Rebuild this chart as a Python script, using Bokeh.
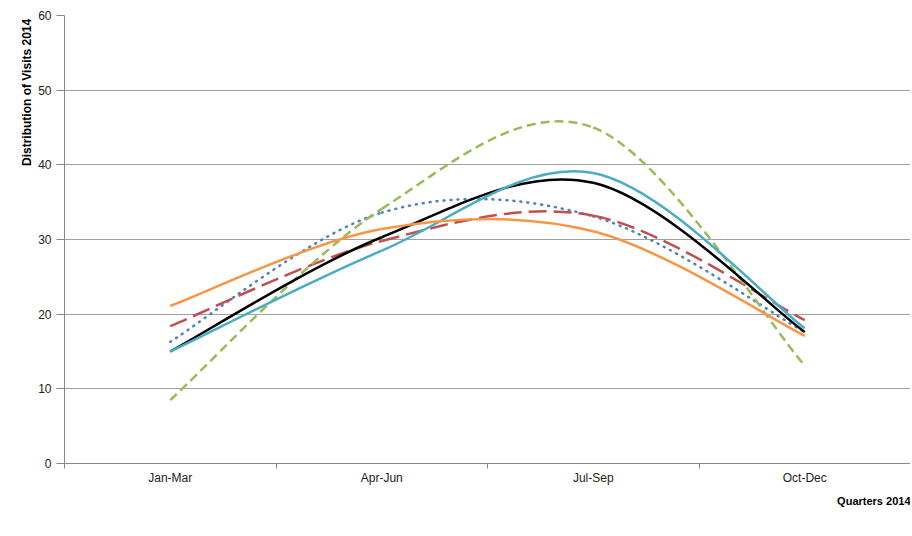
from bokeh.plotting import figure
from bokeh.models import FixedTicker, Title, Legend, LegendItem, Range1d
from bokeh.embed import file_html
from bokeh.resources import INLINE

# ---- data ----
quarters = ["Jan-Mar", "Apr-Jun", "Jul-Sep", "Oct-Dec"]
allfv = [16.3, 33.6, 33.1, 17.6]
fife = [18.4, 29.8, 33.2, 19.2]
perthshire = [8.5, 34.1, 45.0, 13.1]
scotland = [15.0, 30.3, 37.6, 17.6]
edinburgh = [15.0, 28.5, 38.9, 18.1]
glasgow = [21.1, 31.4, 31.1, 17.1]
series_names = ["ALLFV", "Kingdom of Fife", "Perthshire", "Scotland",
                "Edinburgh & Lothian", "Greater Glasgow & Clyde Valley"]
y_ticks = [0, 10, 20, 30, 40, 50, 60]

FONT = "Liberation Sans"

series = [
    (series_names[0], allfv, "#4f81bd", "1 6", "round"),
    (series_names[1], fife, "#c0504d", "18 7", "butt"),
    (series_names[2], perthshire, "#9bbb59", "9 5", "butt"),
    (series_names[3], scotland, "#000000", "solid", "butt"),
    (series_names[4], edinburgh, "#4bacc6", "solid", "butt"),
    (series_names[5], glasgow, "#f79646", "solid", "butt"),
]

xs = [i + 0.5 for i in range(len(quarters))]


def bezier_segments(xv, yv):
    n = len(xv)
    out = dict(x0=[], y0=[], x1=[], y1=[], cx0=[], cy0=[], cx1=[], cy1=[])
    for i in range(n - 1):
        a = max(i - 1, 0)
        d = min(i + 2, n - 1)
        out["x0"].append(xv[i]); out["y0"].append(yv[i])
        out["x1"].append(xv[i + 1]); out["y1"].append(yv[i + 1])
        out["cx0"].append(xv[i] + (xv[i + 1] - xv[a]) / 6)
        out["cy0"].append(yv[i] + (yv[i + 1] - yv[a]) / 6)
        out["cx1"].append(xv[i + 1] - (xv[d] - xv[i]) / 6)
        out["cy1"].append(yv[i + 1] - (yv[d] - yv[i]) / 6)
    return out


p = figure(frame_width=846, frame_height=448, output_backend="svg",
           toolbar_location=None,
           x_range=Range1d(0, len(quarters)), y_range=Range1d(0, 60),
           min_border_left=64, min_border_right=0, min_border_top=15,
           min_border_bottom=71)
p.outline_line_color = None
p.background_fill_color = "white"
p.border_fill_color = "white"

items = []
for name, vals, color, dash, cap in series:
    seg = bezier_segments(xs, vals)
    r = p.bezier(x0=seg["x0"], y0=seg["y0"], x1=seg["x1"], y1=seg["y1"],
                 cx0=seg["cx0"], cy0=seg["cy0"], cx1=seg["cx1"], cy1=seg["cy1"],
                 line_color=color, line_width=2.5, line_dash=dash, line_cap=cap)
    items.append(LegendItem(label=name, renderers=[r]))

# x axis
xa = p.xaxis[0]
xa.ticker = FixedTicker(ticks=xs, minor_ticks=list(range(len(quarters) + 1)))
xa.major_label_overrides = {x: q for x, q in zip(xs, quarters)}
xa.major_tick_line_color = None
xa.major_tick_out = 0
xa.major_tick_in = 0
xa.minor_tick_out = 5
xa.minor_tick_in = 0
xa.minor_tick_line_color = "#888888"
xa.axis_line_color = "#888888"
xa.major_label_text_font = FONT
xa.major_label_text_font_size = "12px"
xa.major_label_text_color = "#222222"
xa.major_label_standoff = 2

# y axis
ya = p.yaxis[0]
ya.ticker = FixedTicker(ticks=y_ticks)
ya.minor_tick_line_color = None
ya.major_tick_out = 8
ya.major_tick_in = 0
ya.major_tick_line_color = "#888888"
ya.axis_line_color = "#888888"
ya.major_label_text_font = FONT
ya.major_label_text_font_size = "12px"
ya.major_label_text_color = "#222222"
ya.major_label_standoff = 5

p.xgrid.grid_line_color = None
p.ygrid.grid_line_color = "#a0a0a0"
p.ygrid.grid_line_width = 1

ytitle = Title(text="Distribution  of Visits 2014", align="right",
               text_font=FONT, text_font_size="12px", text_font_style="bold",
               text_color="#000000", standoff=4)
p.add_layout(ytitle, "left")

xtitle = Title(text="Quarters 2014", align="right",
               text_font=FONT, text_font_size="11px", text_font_style="bold",
               text_color="#000000", standoff=10)
p.add_layout(xtitle, "below")

legend = Legend(items=items, orientation="horizontal", location="top_left",
                glyph_width=30, glyph_height=36, label_standoff=5, spacing=20,
                padding=0, margin=0, border_line_color=None,
                background_fill_alpha=0, label_text_font=FONT,
                label_text_font_size="12px", label_text_color="#222222",
                label_height=36)
p.add_layout(legend, "below")

open("out.html", "w").write(file_html(p, INLINE))
